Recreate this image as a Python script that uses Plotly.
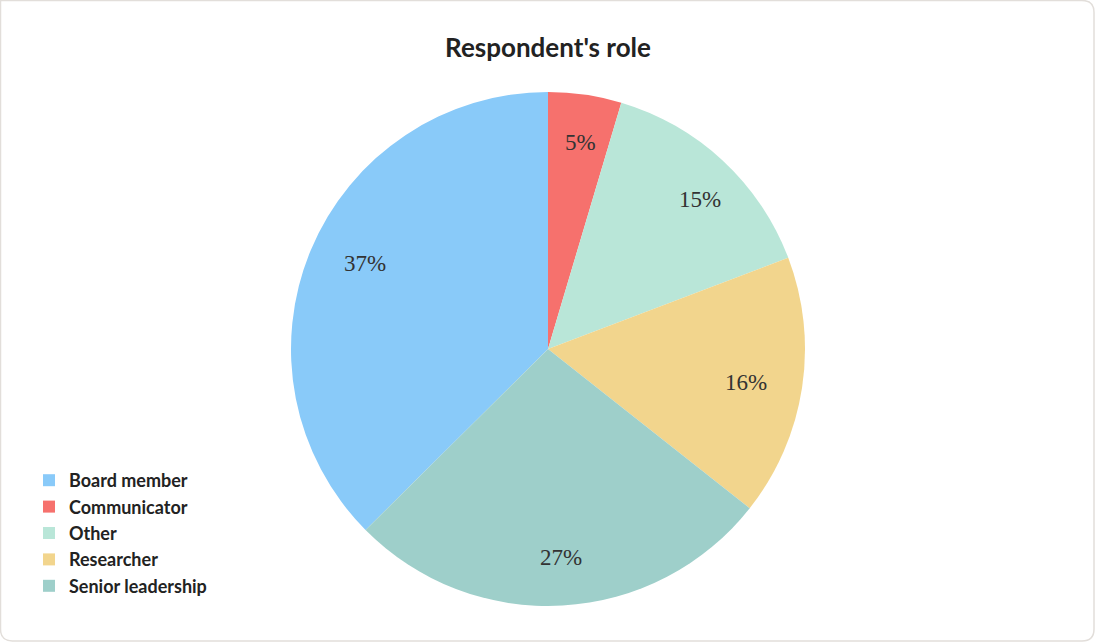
import math
import plotly.graph_objects as go

labels = ["Board member", "Communicator", "Other", "Researcher", "Senior leadership"]
values = [37.4, 4.6, 14.6, 16.4, 26.9]
colors = ["#89CAF9", "#F6716D", "#B9E6D8", "#F2D58D", "#9ECFCA"]

W, H = 1095, 643
CX, CY, R = 548, 349, 257  # pie centre and radius in pixels

total = sum(values)
# first slice (Board member) ends at 12 o'clock when going clockwise
rotation = -360 * values[0] / total

fig = go.Figure()
fig.add_trace(go.Pie(
    labels=labels, values=values, sort=False, direction="clockwise", rotation=rotation,
    marker=dict(colors=colors, line=dict(width=0)),
    textinfo="none",
    domain=dict(x=[(CX - R) / W, (CX + R) / W], y=[1 - (CY + R) / H, 1 - (CY - R) / H]),
    hoverinfo="label+percent",
))

# percentage labels placed along each slice's mid-angle (clockwise from rotation)
annotations = []
cum = 0.0
for v in values:
    mid = (cum + v / 2) / total
    cum += v
    theta = math.radians(rotation + 360 * mid)
    px = CX + 0.87 * R * math.sin(theta)
    py = CY - 0.87 * R * math.cos(theta)
    annotations.append(dict(
        x=px / W, y=1 - py / H, xref="paper", yref="paper", showarrow=False,
        text=f"{round(100 * v / total)}%",
        font=dict(family="Liberation Serif", size=23, color="#333333"),
    ))

r = 12
x0, y0, x1, y1 = 0.5 / W, 1 - 0.5 / H, 1094 / W, 1 - 641 / H
rx, ry = r / W, r / H
path = (f"M {x0},{y0} L {x1 - rx},{y0} Q {x1},{y0} {x1},{y0 - ry} "
        f"L {x1},{y1 + ry} Q {x1},{y1} {x1 - rx},{y1} L {x0 + rx},{y1} "
        f"Q {x0},{y1} {x0},{y1 + ry} Z")

fig.update_layout(
    width=W, height=H,
    margin=dict(l=0, r=0, t=0, b=0),
    paper_bgcolor="white", plot_bgcolor="white",
    title=dict(text="<b>Respondent's role</b>", x=548 / W, xanchor="center",
               y=1 - 48 / H, yanchor="middle", yref="container",
               font=dict(family="Lato", size=26, color="#222222")),
    legend=dict(x=29 / W, y=1 - 462 / H, xanchor="left", yanchor="top",
                font=dict(family="Lato", size=18, color="#222222", weight="bold"),
                bgcolor="rgba(0,0,0,0)", tracegroupgap=0),
    annotations=annotations,
    shapes=[dict(type="path", path=path, xref="paper", yref="paper",
                 line=dict(color="#E2DEDA", width=1.5))],
)

fig.write_html("out.html")
